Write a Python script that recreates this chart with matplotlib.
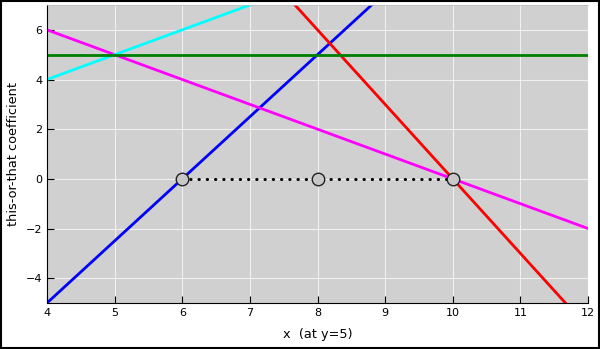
import matplotlib
matplotlib.use('Agg')
import matplotlib.pyplot as plt
import numpy as np

# data
x_span = [4, 12]
blue_y = [-5, 15]      # y = 2.5x - 15
red_y = [18, -6]       # y = -3(x - 10)
magenta_y = [6, -2]    # y = 10 - x
cyan_y = [4, 12]       # y = x
green_y = [5, 5]       # y = 5
pts_x = [6, 8, 10]
pts_y = [0, 0, 0]

BG = '#d0d0d0'

fig = plt.figure(figsize=(6.0, 3.49), dpi=100)
ax = fig.add_axes([47 / 600, 46 / 349, 541 / 600, 298 / 349])
ax.set_facecolor(BG)

ax.plot(x_span, blue_y, color='blue', lw=2)
ax.plot(x_span, red_y, color='red', lw=2)
ax.plot(x_span, magenta_y, color='magenta', lw=2)
ax.plot(x_span, cyan_y, color='cyan', lw=2)
ax.plot(x_span, green_y, color='green', lw=2)
ax.plot(pts_x, pts_y, color='black', ls=(0, (0.1, 2.6)), lw=2.2,
        dash_capstyle='round', zorder=4)
ax.plot(pts_x, pts_y, ls='none', marker='o', ms=9, mfc='#c8c8c8',
        mec='#222222', mew=1, zorder=5)

ax.set_xlim(4, 12)
ax.set_ylim(-5, 7)
ax.set_xticks(range(4, 13))
ax.set_yticks(range(-4, 7, 2))
ax.grid(color='white', lw=0.8, alpha=0.7)
ax.set_axisbelow(True)
ax.tick_params(direction='in', length=5, labelsize=8)
ax.spines['right'].set_visible(False)
ax.spines['top'].set_color('#bbbbbb')
ax.spines['top'].set_linewidth(0.5)
ax.set_xlabel('x  (at y=5)', fontsize=9.3, labelpad=7)
ax.set_ylabel('this-or-that coefficient', fontsize=9.3, labelpad=4)

# black frame around the whole figure
fig.patches.append(plt.Rectangle((0.001, 0.002), 0.997, 0.995, transform=fig.transFigure,
                                 fill=False, edgecolor='black', lw=1.5))

fig.savefig('out.png', dpi=100, facecolor='white')
